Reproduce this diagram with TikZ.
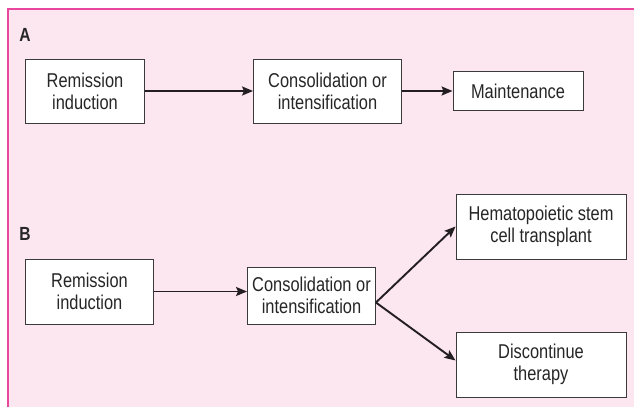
\documentclass[tikz,border=0pt]{standalone}
\usepackage{fontspec}
\setmainfont{Liberation Sans}[FakeStretch=0.82]
\usetikzlibrary{arrows.meta}
\definecolor{panelbg}{HTML}{FCE6F0}
\definecolor{panelrule}{HTML}{E8479D}
\definecolor{inkline}{HTML}{231F20}
\definecolor{boxline}{HTML}{3A3A3A}
\tikzset{
  stagebox/.style={draw=boxline, line width=0.9pt, fill=white, align=center,
    inner sep=0pt, font=\fontsize{20}{22}\selectfont, text=black!85},
  panellabel/.style={font=\fontsize{19}{21}\selectfont\bfseries, text=black!85, inner sep=0pt},
  flow/.style={draw=inkline, line width=1.9pt, -{Stealth[length=11pt, width=9pt, inset=2pt]}}
}
\begin{document}
\begin{tikzpicture}[x=1pt, y=-1pt]
  \useasboundingbox (0,0) rectangle (634,407);
  % panel background and rules
  \fill[panelbg] (7.7,9) rectangle (634,407);
  \draw[panelrule, line width=2pt] (7.7,407) -- (7.7,9) -- (634,9);

  % panel A
  \node[panellabel] (la) at (25,35) {A};
  \node[stagebox, minimum width=119pt, minimum height=64pt] (a1) at (85,91) {Remission\\induction};
  \node[stagebox, minimum width=148pt, minimum height=64pt] (a2) at (327.5,91) {Consolidation or\\intensification};
  \node[stagebox, minimum width=130pt, minimum height=39pt] (a3) at (518,91) {Maintenance};
  \draw[flow] (a1.east) -- (a2.west);
  \draw[flow] (a2.east) -- (a3.west);

  % panel B
  \node[panellabel] (lb) at (25,234) {B};
  \node[stagebox, minimum width=128pt, minimum height=65pt] (b1) at (89.5,291.5) {Remission\\induction};
  \node[stagebox, minimum width=128pt, minimum height=57pt] (b2) at (311.5,295.5) {Consolidation or\\intensification};
  \node[stagebox, minimum width=170pt, minimum height=65pt] (b3) at (541,226.5) {Hematopoietic stem\\cell transplant};
  \node[stagebox, minimum width=170pt, minimum height=65pt] (b4) at (541,364.5) {Discontinue\\therapy};
  \coordinate (fork) at ([yshift=-7pt]b2.east);
  \draw[flow] (b1.east) -- (b1.east -| b2.west);
  \draw[flow] (fork) -- (b3.west);
  \draw[flow] (fork) -- ([yshift=4pt]b4.west);
\end{tikzpicture}
\end{document}
